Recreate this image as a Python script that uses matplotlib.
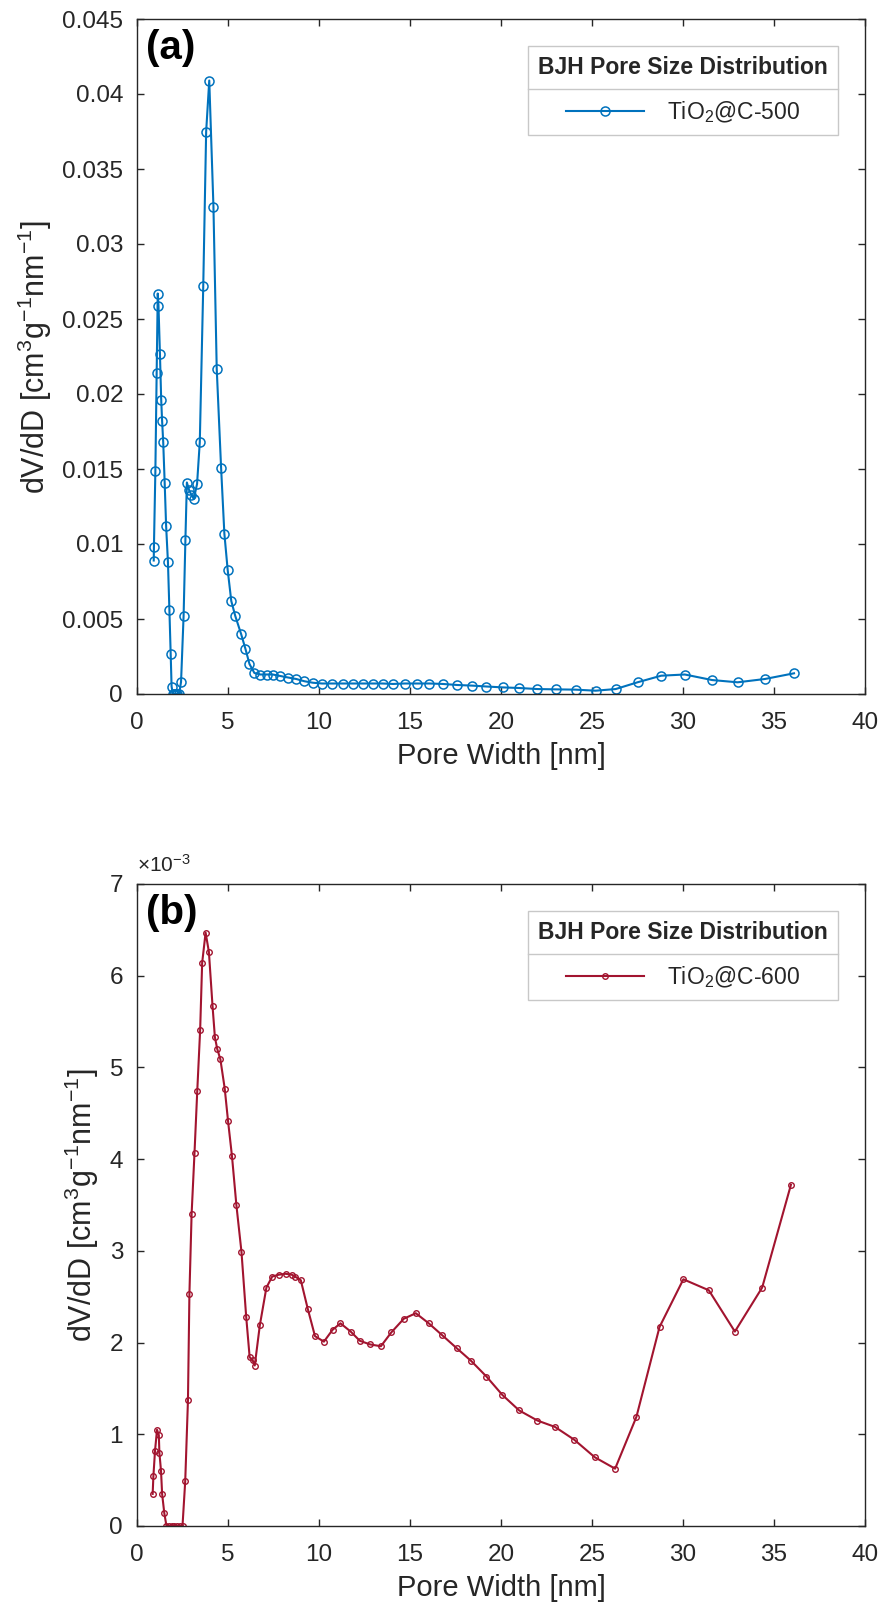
import numpy as np
import matplotlib
matplotlib.use("Agg")
import matplotlib.pyplot as plt
from matplotlib.ticker import FuncFormatter, MultipleLocator
from matplotlib.lines import Line2D

plt.rcParams['font.family'] = ['Liberation Sans', 'DejaVu Sans']
plt.rcParams['mathtext.fontset'] = 'custom'
plt.rcParams['mathtext.rm'] = 'Liberation Sans'
plt.rcParams['mathtext.it'] = 'Liberation Sans:italic'
plt.rcParams['mathtext.bf'] = 'Liberation Sans:bold'

# ---------------- data ----------------
x_500 = [0.92, 0.93, 1.01, 1.08, 1.14, 1.18, 1.26, 1.33, 1.38, 1.44, 1.52, 1.60, 1.70, 1.78,
         1.85, 1.90, 1.97, 2.05, 2.13, 2.22, 2.31, 2.42, 2.56, 2.66, 2.74, 2.86, 2.98, 3.12,
         3.30, 3.45, 3.64, 3.80, 3.97, 4.20, 4.38, 4.62, 4.80, 4.98, 5.18, 5.40, 5.72, 5.96,
         6.18, 6.45, 6.78, 7.12, 7.46, 7.88, 8.30, 8.75, 9.20, 9.67, 10.16, 10.70, 11.30,
         11.87, 12.40, 12.97, 13.50, 14.07, 14.70, 15.36, 16.07, 16.80, 17.60, 18.40, 19.20,
         20.10, 21.00, 22.00, 23.00, 24.10, 25.20, 26.30, 27.50, 28.80, 30.10, 31.60, 33.00,
         34.50, 36.10]
y_500 = [0.0089, 0.0098, 0.0149, 0.0214, 0.0267, 0.0259, 0.0227, 0.0196, 0.0182, 0.0168,
         0.0141, 0.0112, 0.0088, 0.0056, 0.0027, 0.0005, 0.0, 0.0, 0.0, 0.0, 0.0, 0.0008,
         0.0052, 0.0103, 0.0141, 0.0136, 0.0133, 0.0130, 0.0140, 0.0168, 0.0272, 0.0375,
         0.0409, 0.0325, 0.0217, 0.0151, 0.0107, 0.0083, 0.0062, 0.0052, 0.0040, 0.0030,
         0.0020, 0.0014, 0.0013, 0.0013, 0.0013, 0.0012, 0.0011, 0.0010, 0.00085, 0.00075,
         0.0007, 0.0007, 0.0007, 0.0007, 0.0007, 0.0007, 0.0007, 0.00067, 0.0007, 0.0007,
         0.0007, 0.00067, 0.0006, 0.00056, 0.0005, 0.00044, 0.0004, 0.00033, 0.00031,
         0.00029, 0.00022, 0.00033, 0.00078, 0.00122, 0.0013, 0.00093, 0.00078, 0.0010,
         0.00138]

x_600 = [0.86, 0.90, 0.99, 1.10, 1.20, 1.23, 1.32, 1.38, 1.50, 1.62, 1.75, 1.90, 2.05, 2.20,
         2.35, 2.50, 2.65, 2.80, 2.88, 3.00, 3.16, 3.31, 3.47, 3.58, 3.77, 3.95, 4.15, 4.28,
         4.41, 4.58, 4.82, 5.00, 5.22, 5.46, 5.74, 6.00, 6.19, 6.35, 6.47, 6.75, 7.11, 7.43,
         7.79, 8.16, 8.50, 8.68, 9.00, 9.38, 9.78, 10.27, 10.75, 11.18, 11.74, 12.24, 12.80,
         13.40, 13.97, 14.66, 15.32, 16.03, 16.77, 17.56, 18.36, 19.20, 20.07, 21.00, 22.00,
         22.97, 24.03, 25.15, 26.27, 27.44, 28.71, 30.02, 31.42, 32.85, 34.35, 35.93]
# values in units of 1e-3 cm^3 g^-1 nm^-1
y_600_e3 = [0.35, 0.54, 0.82, 1.05, 0.99, 0.80, 0.60, 0.35, 0.14, 0, 0, 0, 0, 0, 0, 0, 0.49,
            1.37, 2.53, 3.40, 4.07, 4.74, 5.41, 6.14, 6.47, 6.26, 5.67, 5.33, 5.20, 5.09,
            4.77, 4.42, 4.03, 3.50, 2.99, 2.28, 1.84, 1.81, 1.75, 2.19, 2.60, 2.72, 2.74,
            2.75, 2.74, 2.72, 2.68, 2.37, 2.07, 2.01, 2.14, 2.21, 2.12, 2.02, 1.98, 1.96,
            2.11, 2.26, 2.32, 2.21, 2.08, 1.94, 1.80, 1.63, 1.43, 1.26, 1.15, 1.08, 0.94,
            0.75, 0.625, 1.19, 2.17, 2.69, 2.57, 2.12, 2.60, 3.72]
y_600 = np.array(y_600_e3) * 1e-3

label_500 = r'TiO$_2$@C-500'
label_600 = r'TiO$_2$@C-600'
legend_title = 'BJH Pore Size Distribution'
xlabel = 'Pore Width [nm]'
ylabel = r'dV/dD [cm$^3$g$^{-1}$nm$^{-1}$]'
exp_text = r'$\times$10$^{-3}$'

BLUE = '#0072BD'
RED = '#A2142F'
AX_COL = '#262626'

W, H = 881, 1609
fig = plt.figure(figsize=(W / 100, H / 100), dpi=100)

left = 137 / W
width = 728 / W
ax1 = fig.add_axes([left, 1 - 694 / H, width, 675 / H])
ax2 = fig.add_axes([left, 1 - 1526 / H, width, 642 / H])


def style(ax):
    ax.set_xlim(0, 40)
    ax.xaxis.set_major_locator(MultipleLocator(5))
    ax.tick_params(direction='in', top=True, right=True, length=5, width=1,
                   labelsize=17.5, colors=AX_COL)
    ax.tick_params(axis='x', pad=13)
    ax.tick_params(axis='y', pad=10)
    for s in ax.spines.values():
        s.set_color(AX_COL)
        s.set_linewidth(1.0)
    ax.set_xlabel(xlabel, fontsize=21, color=AX_COL, labelpad=6)
    ax.set_ylabel(ylabel, fontsize=22, color=AX_COL, labelpad=6)


ax1.plot(x_500, y_500, '-o', color=BLUE, lw=1.5, ms=6.5, mfc='none', mew=1.1,
         label=label_500)
style(ax1)
ax1.set_ylim(0, 0.045)
ax1.yaxis.set_major_locator(MultipleLocator(0.005))
ax1.yaxis.set_major_formatter(FuncFormatter(lambda v, p: f'{v:g}'))
ax1.text(0.012, 0.985, '(a)', transform=ax1.transAxes, fontsize=29, fontweight='bold',
         ha='left', va='top')

ax2.plot(x_600, y_600, '-o', color=RED, lw=1.5, ms=4, mfc='none', mew=1.0,
         label=label_600)
style(ax2)
ax2.set_ylim(0, 0.007)
ax2.yaxis.set_major_locator(MultipleLocator(0.001))
ax2.yaxis.set_major_formatter(FuncFormatter(lambda v, p: f'{v * 1e3:g}'))
ax2.text(0.0, 1.012, exp_text, transform=ax2.transAxes, fontsize=15, color=AX_COL,
         ha='left', va='bottom')
ax2.text(0.012, 0.985, '(b)', transform=ax2.transAxes, fontsize=29, fontweight='bold',
         ha='left', va='top')

LEG_FS = 16.5
LSPACE = 0.85
legs = []
for ax in (ax1, ax2):
    hpx = ax.bbox.height
    leg = ax.legend(loc='upper right', bbox_to_anchor=(1 - 27 / 728, 1 - 27 / hpx),
                    borderaxespad=0, title=legend_title,
                    title_fontproperties={'weight': 'bold', 'size': 16.5},
                    fontsize=LEG_FS, frameon=True, fancybox=False, edgecolor='#C8C8C8',
                    framealpha=1, handlelength=3.4, handletextpad=1.0,
                    borderpad=0.45, labelspacing=LSPACE)
    leg.get_frame().set_linewidth(1.0)
    leg.get_title().set_color(AX_COL)
    for t in leg.get_texts():
        t.set_color(AX_COL)
    legs.append(leg)

fig.canvas.draw()
renderer = fig.canvas.get_renderer()
for leg in legs:
    fb = leg.get_frame().get_window_extent(renderer)
    tb = leg.get_title().get_window_extent(renderer)
    gap = LSPACE * LEG_FS * fig.dpi / 72
    ysep = tb.y0 - gap / 2
    line = Line2D([fb.x0, fb.x1], [ysep, ysep], transform=None, color='#C8C8C8', lw=1.0)
    fig.add_artist(line)

fig.savefig('out.png', dpi=100)
